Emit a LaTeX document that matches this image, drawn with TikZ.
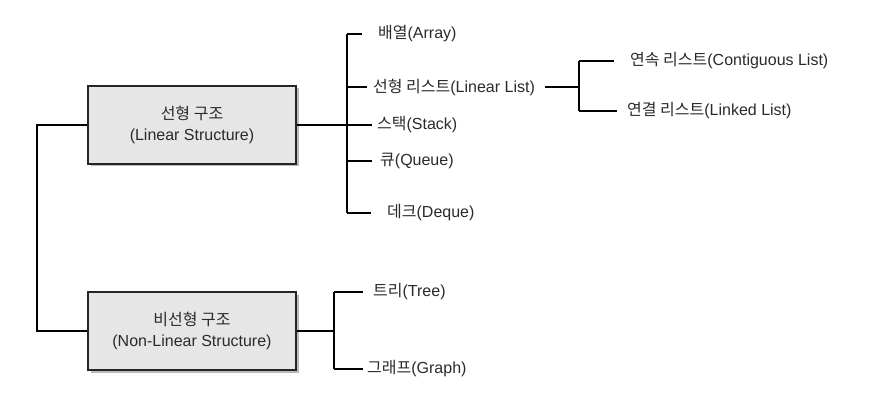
\documentclass[tikz,border=0pt]{standalone}
\usepackage{fontspec}
\setmainfont{Liberation Sans}
\newfontfamily\kr{Noto Sans CJK KR}
\usetikzlibrary{shadows}
\definecolor{txt}{HTML}{2A2A2A}
\definecolor{boxfill}{HTML}{E6E6E6}
\tikzset{
  catbox/.style={draw=black!85, line width=1.3pt, fill=boxfill, minimum width=208pt, minimum height=78pt,
    align=center, text=txt, font=\fontsize{16}{21}\selectfont,
    drop shadow={shadow xshift=2.5pt, shadow yshift=-2.5pt, fill=black!45, opacity=0.6}},
  item/.style={anchor=west, inner sep=0pt, text=txt, font=\fontsize{16}{18}\selectfont},
  conn/.style={draw=black, line width=1.2pt}
}
\begin{document}
\begin{tikzpicture}[x=1pt,y=-1pt]
\useasboundingbox (0,0) rectangle (873,417);
\node[catbox] (lin) at (192,125) {{\kr 선형 구조}\\(Linear Structure)};
\node[catbox] (nonlin) at (192,331) {{\kr 비선형 구조}\\(Non-Linear Structure)};

\node[item] (arr) at (378,34) {{\kr 배열}(Array)};
\node[item] (ll) at (373,87) {{\kr 선형 리스트}(Linear List)};
\node[item] (stk) at (377,125) {{\kr 스택}(Stack)};
\node[item] (que) at (380,161) {{\kr 큐}(Queue)};
\node[item] (deq) at (387,213) {{\kr 데크}(Deque)};
\node[item] (cont) at (630,61) {{\kr 연속 리스트}(Contiguous List)};
\node[item] (link) at (627,111) {{\kr 연결 리스트}(Linked List)};
\node[item] (tree) at (373,292) {{\kr 트리}(Tree)};
\node[item] (graph) at (367,369) {{\kr 그래프}(Graph)};

\coordinate (v1) at (347,125);
\coordinate (v2) at (334,331);
\coordinate (v3) at (579,87);
\coordinate (v0) at (37,125);

% left trunk
\draw[conn] (lin.west) -- (v0) |- (nonlin.west);
% linear structure bracket
\draw[conn] (lin.east) -- ([xshift=-5pt]stk.west);
\draw[conn] (v1 |- arr.west) -- (v1 |- deq.west);
\draw[conn] (v1 |- arr.west) -- ([xshift=-16pt]arr.west);
\draw[conn] (v1 |- ll.west) -- ([xshift=-6pt]ll.west);
\draw[conn] (v1 |- que.west) -- ([xshift=-8pt]que.west);
\draw[conn] (v1 |- deq.west) -- ([xshift=-16pt]deq.west);
% linear list sub-bracket
\draw[conn] ([xshift=10pt]ll.east) -- (v3);
\draw[conn] (v3 |- cont.west) -- (v3 |- link.west);
\draw[conn] (v3 |- cont.west) -- ([xshift=-16pt]cont.west);
\draw[conn] (v3 |- link.west) -- ([xshift=-10pt]link.west);
% non-linear bracket
\draw[conn] (nonlin.east) -- (v2);
\draw[conn] (v2 |- tree.west) -- (v2 |- graph.west);
\draw[conn] (v2 |- tree.west) -- ([xshift=-10pt]tree.west);
\draw[conn] (v2 |- graph.west) -- ([xshift=-4pt]graph.west);
\end{tikzpicture}
\end{document}
